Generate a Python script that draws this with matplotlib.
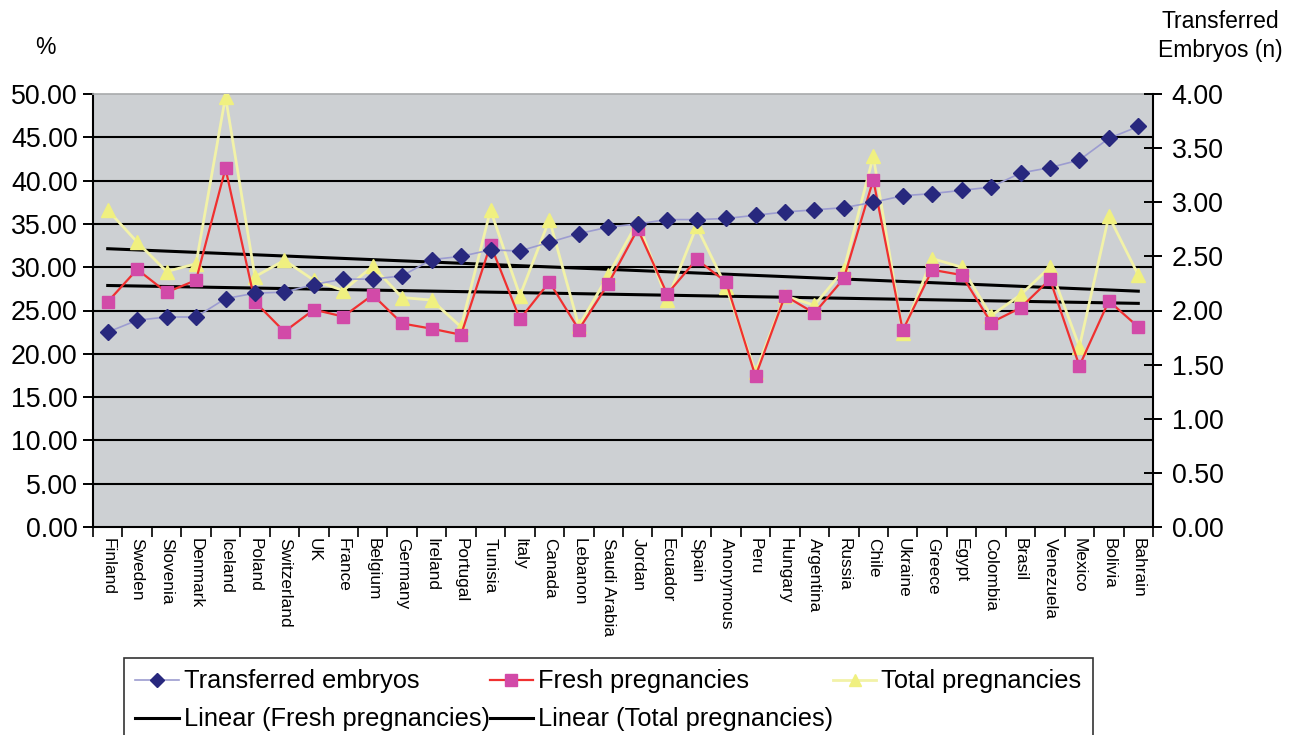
import numpy as np
import matplotlib
matplotlib.use("Agg")
import matplotlib.pyplot as plt
from matplotlib.lines import Line2D

plt.rcParams['font.family'] = ['Liberation Sans', 'DejaVu Sans']

countries = ["Finland", "Sweden", "Slovenia", "Denmark", "Iceland", "Poland",
             "Switzerland", "UK", "France", "Belgium", "Germany", "Ireland",
             "Portugal", "Tunisia", "Italy", "Canada", "Lebanon", "Saudi Arabia",
             "Jordan", "Ecuador", "Spain", "Anonymous", "Peru", "Hungary",
             "Argentina", "Russia", "Chile", "Ukraine", "Greece", "Egypt",
             "Colombia", "Brasil", "Venezuela", "Mexico", "Bolivia", "Bahrain"]

# Mean number of transferred embryos (right axis)
transferred = [1.80, 1.91, 1.94, 1.94, 2.11, 2.16, 2.17, 2.24, 2.29, 2.29, 2.32, 2.47,
               2.50, 2.56, 2.55, 2.63, 2.71, 2.77, 2.80, 2.84, 2.84, 2.85, 2.88, 2.91,
               2.93, 2.95, 3.00, 3.06, 3.08, 3.11, 3.14, 3.27, 3.32, 3.39, 3.59, 3.70]

# Pregnancy rates, % (left axis)
fresh = [26.0, 29.75, 27.1, 28.5, 41.4, 26.0, 22.55, 25.1, 24.3, 26.8, 23.5, 22.9,
         22.2, 32.6, 24.0, 28.3, 22.8, 28.1, 34.4, 26.9, 30.9, 28.3, 17.4, 26.7,
         24.7, 28.7, 40.1, 22.7, 29.7, 29.1, 23.6, 25.3, 28.6, 18.6, 26.1, 23.1]

total = [36.6, 32.9, 29.5, 30.4, 49.7, 28.9, 30.8, 28.5, 27.3, 30.1, 26.5, 26.2,
         23.1, 36.6, 26.7, 35.5, 23.2, 29.1, 35.25, 26.2, 34.7, 27.75, 17.9, 26.7,
         25.6, 29.7, 42.8, 22.4, 31.0, 30.0, 24.4, 26.8, 30.0, 20.8, 35.9, 29.1]

left_ticks = np.arange(0, 50.01, 5)
right_ticks = np.arange(0, 4.01, 0.5)

x = np.arange(len(countries))

fig = plt.figure(figsize=(12.97, 7.35), dpi=100)
ax = fig.add_axes([93 / 1297, 1 - 527 / 735, (1153 - 93) / 1297, (527 - 94) / 735])
ax.set_facecolor("#CDD0D3")

# Horizontal grid lines
for yv in left_ticks[1:-1]:
    ax.axhline(yv, color="black", lw=1.5, zorder=1)

# Least-squares trend lines
for series in (fresh, total):
    k, b = np.polyfit(x, series, 1)
    ax.plot(x, k * x + b, color="black", lw=2.2, zorder=2)

ax.plot(x, total, color="#F2F2A8", lw=2.0, marker="^", markersize=10,
        markerfacecolor="#F0F080", markeredgecolor="#F0F080", zorder=3)
ax.plot(x, fresh, color="#F03030", lw=1.6, marker="s", markersize=9,
        markerfacecolor="#D24AA8", markeredgecolor="#D24AA8", zorder=4)

ax.set_xlim(-0.5, len(countries) - 0.5)
ax.set_ylim(0, 50)
ax.set_yticks(left_ticks)
ax.set_yticklabels([f"{v:.2f}" for v in left_ticks])
ax.tick_params(axis="y", direction="out", length=7, width=1.4, labelsize=19.3,
               colors="black", pad=4)

ax.set_xticks(x)
ax.set_xticklabels(countries, rotation=270, fontsize=12.4)
ax.tick_params(axis="x", which="major", length=0, pad=8)
ax.set_xticks(np.arange(-0.5, len(countries), 1), minor=True)
ax.tick_params(axis="x", which="minor", direction="out", length=7, width=1.2)

for side in ("left", "bottom"):
    ax.spines[side].set_color("black")
    ax.spines[side].set_linewidth(1.5)
ax.spines["top"].set_color("#A8AAAC")
ax.spines["top"].set_linewidth(1.2)
ax.spines["right"].set_visible(False)

ax2 = ax.twinx()
ax2.plot(x, transferred, color="#9C9CD0", lw=1.2, marker="D", markersize=8,
         markerfacecolor="#28287E", markeredgecolor="#28287E", zorder=5)
ax2.set_ylim(0, 4)
ax2.set_yticks(right_ticks)
ax2.set_yticklabels([f"{v:.2f}" for v in right_ticks])
ax2.tick_params(axis="y", direction="inout", length=13, width=1.4, labelsize=19.3,
                colors="black", pad=7)
ax2.spines["right"].set_color("black")
ax2.spines["right"].set_linewidth(1.5)
for side in ("left", "top", "bottom"):
    ax2.spines[side].set_visible(False)

fig.text(45 / 1297, 1 - 47 / 735, "%", fontsize=16.5, ha="center", va="center")
fig.text(1220 / 1297, 1 - 36 / 735, "Transferred\nEmbryos (n)", fontsize=16.5,
         ha="center", va="center", linespacing=1.3)

handles = [
    Line2D([], [], color="#9C9CD0", lw=1.2, marker="D", markersize=7,
           markerfacecolor="#28287E", markeredgecolor="#28287E"),
    Line2D([], [], color="black", lw=2.2),
    Line2D([], [], color="#F03030", lw=1.6, marker="s", markersize=8,
           markerfacecolor="#D24AA8", markeredgecolor="#D24AA8"),
    Line2D([], [], color="black", lw=2.2),
    Line2D([], [], color="#F2F2A8", lw=2.0, marker="^", markersize=9,
           markerfacecolor="#F0F080", markeredgecolor="#F0F080"),
]
labels = ["Transferred embryos", "Linear (Fresh pregnancies)",
          "Fresh pregnancies", "Linear (Total pregnancies)", "Total pregnancies"]
leg = fig.legend(handles, labels, ncol=3, loc="upper left",
                 bbox_to_anchor=(124 / 1297, 1 - 658 / 735), fontsize=18.3,
                 frameon=True, fancybox=False, edgecolor="black",
                 handlelength=1.7, handletextpad=0.2, columnspacing=0.0,
                 borderaxespad=0, borderpad=0.45, labelspacing=0.55)
leg.get_frame().set_linewidth(1.2)

fig.savefig("out.png", dpi=100, facecolor="white")
